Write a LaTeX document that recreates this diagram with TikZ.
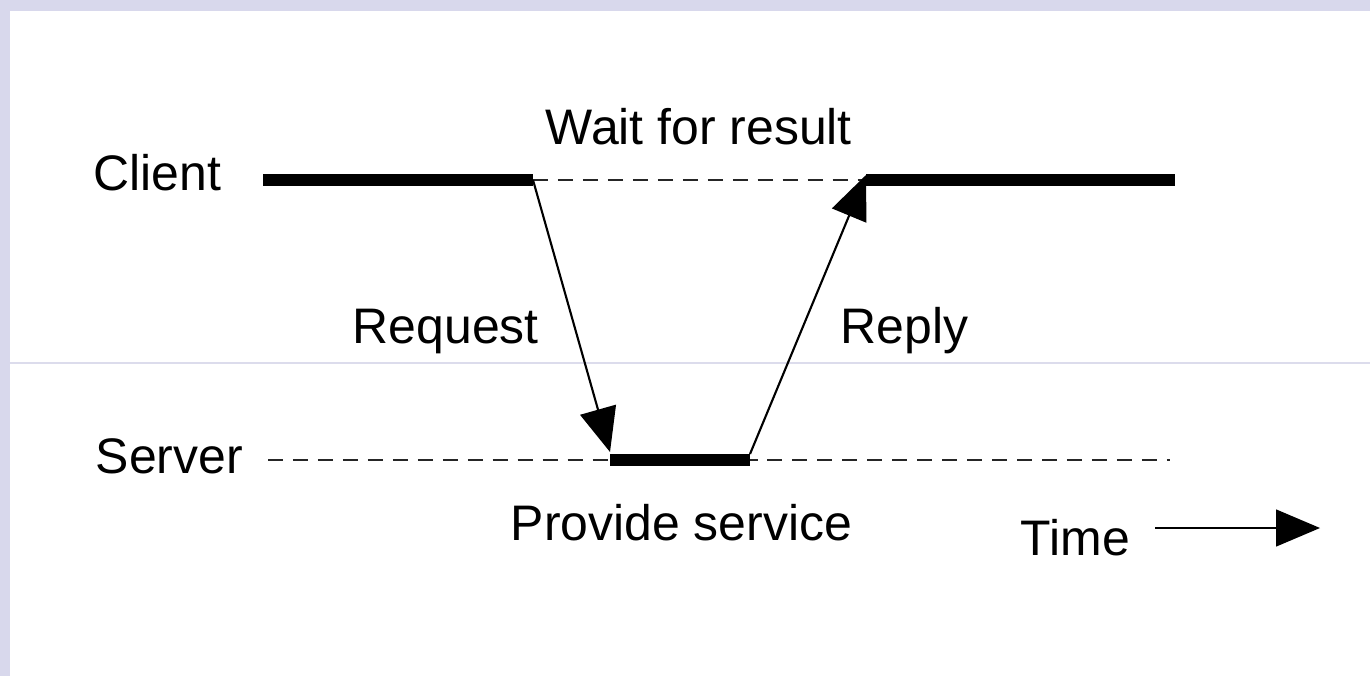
\documentclass[tikz,border=0pt]{standalone}
\usepackage{fontspec}
\setmainfont{Liberation Sans}
\usetikzlibrary{arrows.meta}
\definecolor{frame}{HTML}{D8D8EC}
\definecolor{faint}{HTML}{DCDCEC}
\tikzset{
  lbl/.style={anchor=base west, inner sep=0pt, font=\fontsize{14.2}{16}\selectfont},
  active/.style={line width=3.3pt, line cap=butt},
  idle/.style={line width=0.8pt, black!85, dash pattern=on 4.3pt off 2.8pt},
  msg/.style={line width=0.6pt, -{Triangle[length=12.5pt,width=10.5pt]}},
}
\begin{document}
\begin{tikzpicture}[x=0.01cm,y=-0.01cm]
\useasboundingbox (0,0) rectangle (1370,676);
\fill[white] (0,0) rectangle (1370,676);
\fill[frame] (0,0) rectangle (1370,11);
\fill[frame] (0,0) rectangle (10,676);
\draw[faint, line width=0.35pt] (10,363) -- (1370,363);
% coordinates
\coordinate (c1) at (263,180);
\coordinate (c2) at (533,180);
\coordinate (c3) at (866,180);
\coordinate (c4) at (1175,180);
\coordinate (s1) at (268,460);
\coordinate (s2) at (610,460);
\coordinate (s3) at (750,460);
\coordinate (s4) at (1170,460);
\coordinate (reqtip) at (610,452);
\coordinate (reptail) at (750,454);
\coordinate (reptip) at (866,175);
\coordinate (t1) at (1155,528);
\coordinate (t2) at (1320,528);
% labels
\node[lbl] (client) at (93,190) {Client};
\node[lbl] (server) at (95,473) {Server};
\node[lbl] (wait) at (545,145) {Wait for result};
\node[lbl] (request) at (352,343) {Request};
\node[lbl] (reply) at (840,343) {Reply};
\node[lbl] (provide) at (510,540) {Provide service};
\node[lbl] (time) at (1020,555) {Time};
% timelines
\draw[idle] (c2) -- (c3);
\draw[idle] (s1) -- (s4);
\draw[active] (c1) -- (c2);
\draw[active] (c3) -- (c4);
\draw[active] (s2) -- (s3);
% messages
\draw[msg] (c2) -- (reqtip);
\draw[msg] (reptail) -- (reptip);
\draw[msg, line width=0.45pt] (t1) -- (t2);
\end{tikzpicture}
\end{document}
